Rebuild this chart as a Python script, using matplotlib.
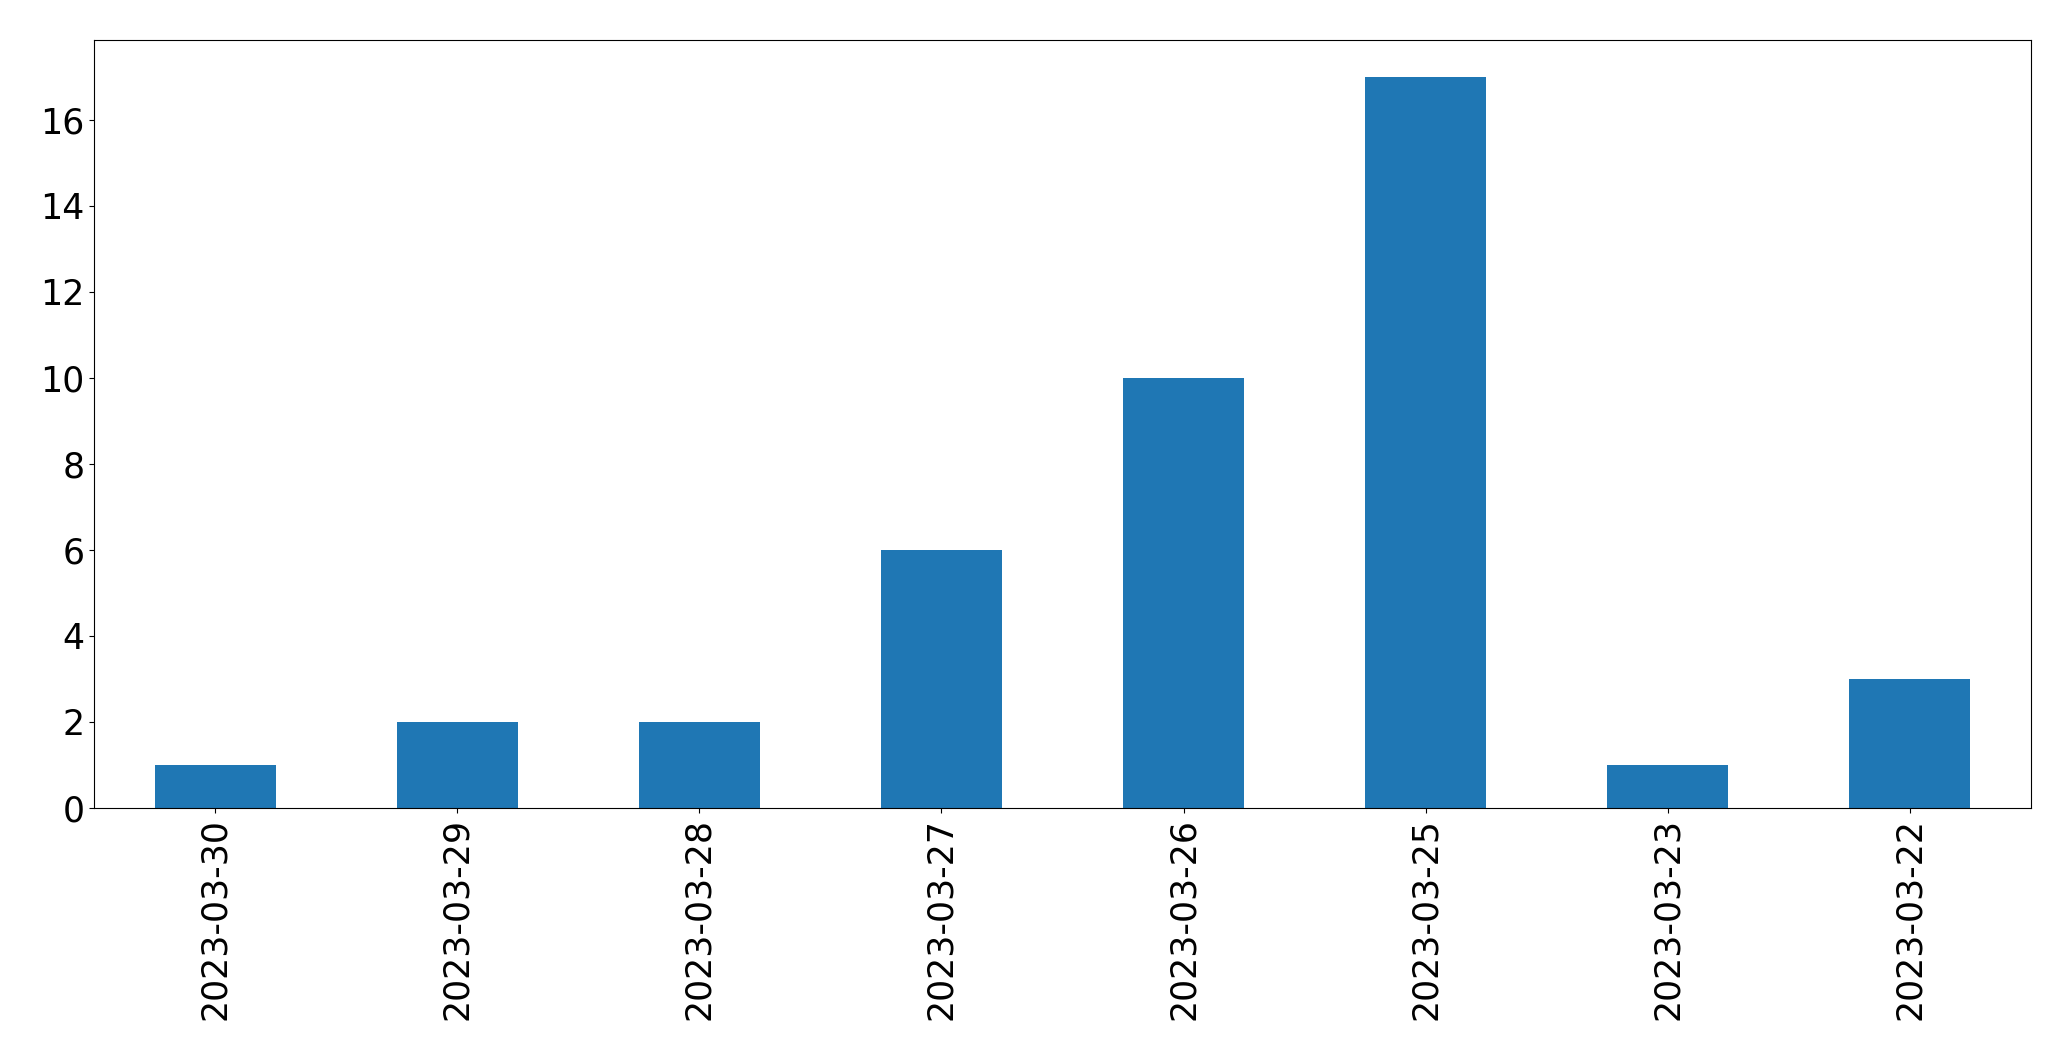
import matplotlib
matplotlib.use("Agg")
import matplotlib.pyplot as plt

dates = ["2023-03-30", "2023-03-29", "2023-03-28", "2023-03-27",
         "2023-03-26", "2023-03-25", "2023-03-23", "2023-03-22"]
counts = [1, 2, 2, 6, 10, 17, 1, 3]

fig = plt.figure(figsize=(20.71, 10.61), dpi=100)
ax = fig.add_axes([94/2071, 1 - 808/1061, (2031-94)/2071, (808-40)/1061])
x = range(len(dates))
ax.bar(x, counts, width=0.5, color="#1f77b4")
ax.set_xticks(list(x))
ax.set_xticklabels(dates, rotation=90)
ax.set_xlim(-0.5, len(dates) - 0.5)
ax.tick_params(labelsize=25)
fig.savefig("out.png", dpi=100)
